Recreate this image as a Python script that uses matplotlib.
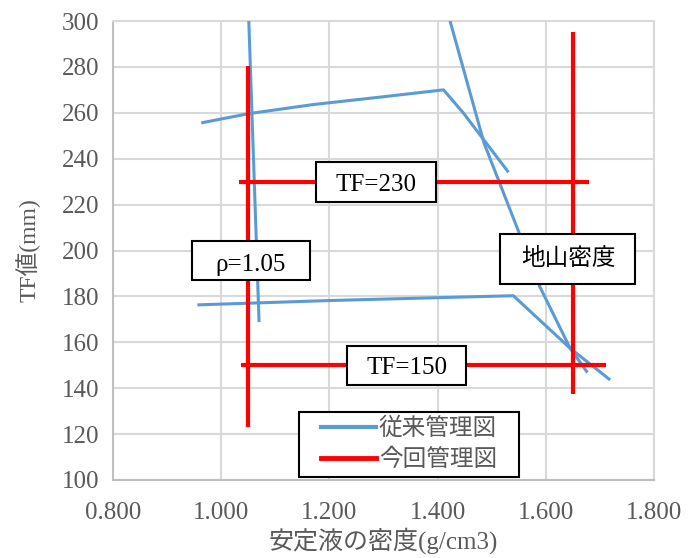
import matplotlib

matplotlib.use("Agg")
import matplotlib.pyplot as plt
import matplotlib.transforms as mtransforms
from matplotlib.legend_handler import HandlerLine2D
from matplotlib.lines import Line2D
from matplotlib.patches import Rectangle

plt.rcParams["font.family"] = ["Liberation Serif", "Noto Sans CJK JP"]

# previous control chart: four curves (density, TF)
old_upper_x = [0.963, 1.050, 1.170, 1.300, 1.411, 1.448, 1.531]
old_upper_y = [255.6, 259.6, 263.6, 267.0, 270.0, 259.8, 234.1]
old_lower_x = [0.956, 1.200, 1.540, 1.645, 1.719]
old_lower_y = [176.3, 178.2, 180.3, 157.4, 143.6]
old_left_x = [1.051, 1.070]
old_left_y = [300.0, 168.8]
old_right_x = [1.423, 1.486, 1.551, 1.589, 1.645, 1.677]
old_right_y = [300.0, 246.7, 207.5, 184.2, 157.4, 146.8]

# new control chart: two density limits and two TF limits
rho_min = 1.05
rho_min_span = [123.2, 280.5]
rho_ground = 1.651
rho_ground_span = [137.3, 295.1]
tf_upper = 230
tf_upper_span = [1.033, 1.680]
tf_lower = 150
tf_lower_span = [1.037, 1.711]

x_ticks = [0.8, 1.0, 1.2, 1.4, 1.6, 1.8]
y_ticks = [100, 120, 140, 160, 180, 200, 220, 240, 260, 280, 300]

BLUE = "#5b9bd5"
RED = "#ff0000"
GRID = "#d9d9d9"
TEXT_GRAY = "#595959"

fig = plt.figure(figsize=(6.96, 5.58), dpi=100)
ax = fig.add_axes([113 / 696, 1 - 480 / 558, 541 / 696, 459 / 558])

for xs, ys in [(old_upper_x, old_upper_y), (old_lower_x, old_lower_y),
               (old_left_x, old_left_y), (old_right_x, old_right_y)]:
    ax.plot(xs, ys, color=BLUE, lw=2.2, solid_capstyle="butt", zorder=3)

ax.plot([rho_min, rho_min], rho_min_span, color=RED, lw=3, solid_capstyle="butt", zorder=4)
ax.plot([rho_ground, rho_ground], rho_ground_span, color=RED, lw=3, solid_capstyle="butt", zorder=4)
ax.plot(tf_upper_span, [tf_upper, tf_upper], color=RED, lw=3, solid_capstyle="butt", zorder=4)
ax.plot(tf_lower_span, [tf_lower, tf_lower], color=RED, lw=3, solid_capstyle="butt", zorder=4)

ax.set_xlim(0.8, 1.8)
ax.set_ylim(100, 300)
ax.set_xticks(x_ticks)
ax.set_yticks(y_ticks)
ax.set_xticklabels([f"{v:.3f}" for v in x_ticks])
ax.grid(True, color=GRID, lw=1.5, zorder=0)
ax.set_axisbelow(True)
for side, spine in ax.spines.items():
    spine.set_color(GRID if side in ("top", "right") else "#bfbfbf")
    spine.set_linewidth(1.5)
ax.tick_params(length=0, labelsize=18, labelcolor=TEXT_GRAY)
ax.tick_params(axis="y", pad=10)
ax.tick_params(axis="x", pad=16)

ax.set_xlabel("安定液の密度(g/cm3)", fontsize=18, color=TEXT_GRAY, labelpad=2)
ax.set_ylabel("TF値(mm)", fontsize=17, color=TEXT_GRAY, labelpad=15)


def label_box(x, y, text, w_px, h_px, size=18, dy_px=0):
    """Draw a fixed-size white box with a centred label at data point (x, y)."""
    dpi = fig.dpi
    trans = fig.dpi_scale_trans + mtransforms.ScaledTranslation(x, y, ax.transData)
    ax.add_patch(Rectangle((-w_px / 2 / dpi, -h_px / 2 / dpi), w_px / dpi, h_px / dpi,
                           transform=trans, facecolor="white", edgecolor="black",
                           lw=1.5, zorder=6, clip_on=False))
    ax.text(0, -dy_px / dpi, text, transform=trans, ha="center", va="center",
            fontsize=size, color="black", zorder=7)


label_box(1.286, 230, "TF=230", 120, 40, dy_px=3)
label_box(1.343, 150, "TF=150", 119, 39, dy_px=3)
label_box(1.055, 195.8, "ρ=1.05", 118, 39, dy_px=5)
label_box(1.641, 196.3, "地山密度", 135, 50, size=17)

# legend: fixed-width frame, handle inset from the left edge
handles = [Line2D([], [], color=BLUE, lw=3), Line2D([], [], color=RED, lw=3.5)]
inset = HandlerLine2D(xpad=0.68)
leg = ax.legend(handles, ["従来管理図", "今回管理図"], loc="lower left",
                bbox_to_anchor=(0.344, 0.007, 0.407, 0.15), mode="expand",
                borderaxespad=0, fontsize=17, fancybox=False, framealpha=1,
                edgecolor="black", handlelength=3.0, handletextpad=0.13,
                labelspacing=0.34, borderpad=0.25,
                handler_map={Line2D: inset})
leg.get_frame().set_linewidth(1.5)
leg.set_zorder(8)
for t in leg.get_texts():
    t.set_color(TEXT_GRAY)

fig.savefig("out.png", dpi=100)
